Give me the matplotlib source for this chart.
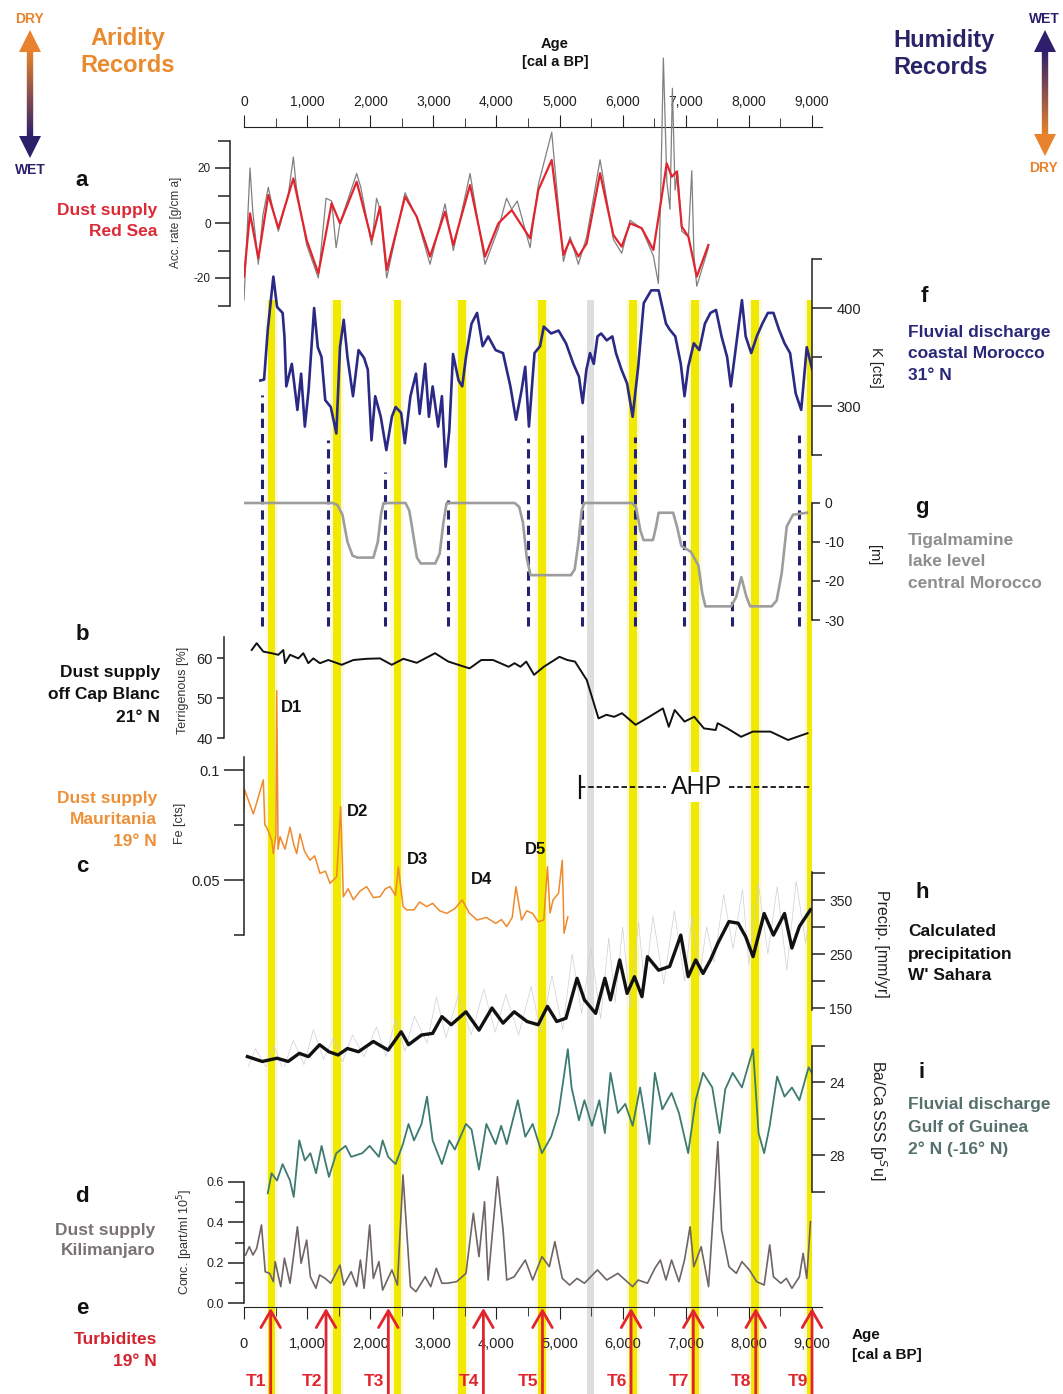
import numpy as np
import matplotlib
matplotlib.use('Agg')
import matplotlib.pyplot as plt
from matplotlib.ticker import FixedLocator, FuncFormatter, MultipleLocator
from matplotlib.patches import Polygon
from matplotlib.colors import to_rgb

plt.rcParams['font.family'] = ['Liberation Sans', 'DejaVu Sans']
plt.rcParams['axes.unicode_minus'] = False

# ---------------- data (ages in cal a BP) ----------------
# a  dust supply Red Sea, acc. rate [g/cm a]
a_age = [0, 95, 227, 385, 544, 782, 993, 1178, 1389, 1521, 1786, 2023, 2155, 2261, 2552, 2737,
         2948, 3185, 3317, 3582, 3819, 4031, 4242, 4533, 4664, 4876, 5061, 5166, 5298, 5430,
         5642, 5853, 5985, 6117, 6302, 6487, 6619, 6698, 6778, 6857, 6936, 7042, 7174, 7358]
a_smooth = [-19.5, 3.5, -12.8, 10.2, -1.9, 16.2, -6.2, -18.3, 7.2, -0.1, 15, -6.2, 5.9, -17.1,
            9.6, 2.3, -12.2, 4.1, -8, 13.8, -12.2, -0.1, 4.7, -5.6, 12, 22.9, -11.6, -6.2, -12.2,
            -7.4, 18.1, -4.4, -8.6, -0.1, -1.9, -9.8, 9.6, 21.7, 16.8, 18.7, -1.3, -5, -19.5, -8]
a_raw_age = [0, 40, 95, 140, 227, 300, 385, 440, 544, 700, 782, 830, 993, 1178, 1300, 1389, 1460,
             1521, 1786, 1850, 2023, 2100, 2155, 2261, 2552, 2737, 2948, 3185, 3317, 3582, 3819,
             4031, 4160, 4242, 4330, 4533, 4664, 4876, 5061, 5166, 5298, 5430, 5642, 5853, 5985,
             6117, 6302, 6487, 6566, 6600, 6645, 6700, 6750, 6788, 6830, 6870, 6936, 7042, 7095,
             7130, 7174, 7358]
a_raw = [-28, -8, 20, 4, -15, 3, 13, 7, -3, 10, 24, 13, -8, -20, 9, 8, -9, 0, 18, 13, -8, 9, 5,
         -20, 11, 2, -15, 7, -10, 18, -15, -2, 9, 5, 8, -9, 14, 33, -14, -5, -15, -5, 23, -6, -11,
         1, -2, -12, -22, 8, 60, 15, 5, 49, 12, 19, -3, -5, 19, -12, -23, -9]

# f  K [cts], coastal Morocco
f_age = [259, 318, 377, 465, 524, 612, 641, 670, 758, 846, 905, 964, 1023, 1081, 1111, 1169, 1228,
         1287, 1375, 1463, 1521, 1580, 1639, 1727, 1815, 1903, 1962, 2020, 2079, 2167, 2255, 2343,
         2402, 2490, 2549, 2637, 2725, 2783, 2871, 2930, 2989, 3077, 3136, 3194, 3253, 3312, 3400,
         3458, 3517, 3605, 3693, 3781, 3869, 3987, 4104, 4221, 4310, 4398, 4456, 4515, 4603, 4691,
         4750, 4867, 4984, 5102, 5219, 5307, 5366, 5425, 5483, 5542, 5601, 5659, 5747, 5836, 5894,
         5982, 6070, 6158, 6246, 6334, 6452, 6569, 6687, 6745, 6834, 6921, 6980, 7039, 7127, 7215,
         7303, 7391, 7479, 7567, 7655, 7714, 7802, 7890, 7949, 8037, 8125, 8213, 8301, 8389, 8477,
         8565, 8653, 8741, 8829, 8917, 9005]
f_val = [326, 327, 378, 432, 401, 395, 371, 320, 343, 296, 333, 279, 316, 371, 400, 360, 350, 306,
         299, 272, 360, 388, 350, 310, 357, 349, 337, 265, 310, 289, 255, 289, 299, 293, 262, 310,
         333, 292, 343, 289, 320, 279, 310, 238, 275, 353, 326, 320, 350, 384, 395, 361, 371, 357,
         354, 320, 286, 316, 340, 279, 354, 361, 381, 374, 377, 364, 343, 330, 303, 337, 354, 343,
         371, 374, 367, 371, 354, 337, 323, 289, 340, 405, 418, 418, 384, 378, 371, 343, 310, 340,
         364, 357, 384, 395, 398, 371, 350, 320, 364, 408, 371, 354, 371, 384, 395, 395, 378, 364,
         354, 313, 296, 360, 337]

# g  Tigalmamine lake level [m]
g_age = [0, 1400, 1480, 1560, 1640, 1720, 1800, 2050, 2120, 2170, 2210, 2560, 2620, 2680, 2740,
         2800, 3030, 3100, 3160, 3210, 4290, 4360, 4420, 4480, 4540, 5180, 5240, 5300, 5350, 5390,
         6150, 6210, 6280, 6330, 6480, 6530, 6570, 6800, 6860, 6930, 7080, 7130, 7200, 7260, 7310,
         7720, 7800, 7880, 7960, 8020, 8360, 8440, 8520, 8600, 8700, 8920]
g_val = [0, 0, -0.5, -3, -10, -13.5, -14, -14, -10, -3, 0, 0, -2, -8, -14, -15.5, -15.5, -13, -5,
         0, 0, -1, -5, -14, -18.5, -18.5, -17, -10, -2, 0, 0, -1, -7, -9.5, -9.5, -6, -2.5, -2.5,
         -6, -11, -12.5, -14, -16, -23, -26.5, -26.5, -24, -19, -24, -26.5, -26.5, -25, -18, -6,
         -3, -2.5]

# b  terrigenous [%] off Cap Blanc
b_age = [122, 201, 306, 438, 544, 623, 650, 729, 861, 940, 1019, 1098, 1204, 1336, 1548, 1733,
         1944, 2155, 2341, 2525, 2737, 3027, 3238, 3574, 3760, 3946, 4193, 4287, 4380, 4472, 4596,
         4750, 4998, 5122, 5245, 5431, 5617, 5741, 5866, 5989, 6205, 6421, 6638, 6731, 6824, 6980,
         7134, 7288, 7474, 7505, 7659, 7876, 8062, 8341, 8621, 8929]
b_val = [62, 63.7, 61.6, 61.2, 60.8, 62, 58.7, 60.8, 59.9, 61.2, 58.7, 59.9, 58.7, 59.5, 58.3,
         59.5, 59.8, 59.9, 58.3, 59.8, 58.8, 61.2, 59.1, 57.4, 59.5, 59.5, 57.8, 58.7, 57.8, 59.1,
         55.8, 57.8, 60.3, 59.5, 59.1, 54.5, 44.9, 45.8, 45.3, 46.2, 43.3, 45.3, 47.4, 42.8, 47,
         44.1, 45.3, 42.4, 42, 43.7, 42.4, 40.3, 41.6, 41.6, 39.5, 41.2]

# c  Fe [cts] Mauritania
c_age = [0, 10, 148, 306, 330, 359, 440, 465, 505, 518, 540, 571, 650, 729, 790, 835, 887, 960,
         1046, 1120, 1204, 1290, 1363, 1469, 1532, 1574, 1650, 1733, 1840, 1944, 2050, 2155, 2240,
         2314, 2400, 2446, 2520, 2578, 2694, 2780, 2895, 2989, 3100, 3212, 3340, 3458, 3570, 3693,
         3840, 3987, 4080, 4163, 4250, 4309, 4398, 4480, 4574, 4660, 4750, 4808, 4850, 4897, 4984,
         5043, 5071, 5131]
c_val = [0.082, 0.091, 0.080, 0.0955, 0.075, 0.074, 0.068, 0.062, 0.070, 0.136, 0.064, 0.0697,
         0.064, 0.074, 0.066, 0.062, 0.071, 0.063, 0.059, 0.061, 0.053, 0.054, 0.0485, 0.0515,
         0.0833, 0.0424, 0.046, 0.041, 0.045, 0.047, 0.042, 0.0424, 0.046, 0.047, 0.043, 0.056,
         0.038, 0.0364, 0.0364, 0.040, 0.0379, 0.0394, 0.036, 0.0348, 0.037, 0.0409, 0.035, 0.0318,
         0.033, 0.0303, 0.032, 0.0288, 0.033, 0.047, 0.0318, 0.036, 0.0348, 0.031, 0.0318, 0.056,
         0.035, 0.0409, 0.044, 0.059, 0.0258, 0.0333]

# h  calculated precipitation [mm/yr]
h_age = [54, 289, 523, 699, 876, 1021, 1198, 1345, 1491, 1639, 1814, 2049, 2284, 2490, 2607, 2813,
         2989, 3136, 3283, 3517, 3723, 3929, 4105, 4281, 4485, 4661, 4808, 4955, 5101, 5277, 5394,
         5572, 5718, 5807, 5953, 6070, 6187, 6306, 6393, 6569, 6745, 6921, 7038, 7157, 7274, 7391,
         7508, 7684, 7830, 7949, 8066, 8242, 8389, 8565, 8682, 8800, 8976]
h_val = [60, 51, 57, 51, 66, 60, 82, 69, 63, 75, 69, 88, 72, 106, 82, 100, 103, 134, 119, 143,
         109, 150, 122, 143, 125, 119, 153, 125, 131, 205, 165, 140, 205, 165, 239, 177, 208, 171,
         245, 220, 227, 285, 208, 239, 214, 239, 270, 310, 307, 282, 245, 325, 285, 325, 261, 301,
         332]
h_raw_age = [30, 180, 350, 480, 620, 780, 950, 1100, 1260, 1420, 1560, 1720, 1900, 2100, 2250,
             2400, 2550, 2700, 2900, 3050, 3200, 3400, 3600, 3800, 3980, 4150, 4350, 4550, 4700,
             4880, 5050, 5200, 5350, 5500, 5650, 5780, 5880, 6000, 6120, 6250, 6350, 6480, 6650,
             6820, 6980, 7100, 7220, 7330, 7450, 7600, 7750, 7900, 8000, 8150, 8300, 8450, 8600,
             8750, 8900, 9000]
h_raw = [30, 75, 40, 80, 35, 90, 45, 110, 55, 95, 50, 100, 60, 115, 60, 130, 70, 135, 85, 170, 95,
         175, 100, 185, 105, 175, 100, 190, 105, 210, 110, 250, 140, 260, 130, 280, 160, 300, 150,
         310, 190, 320, 195, 330, 200, 320, 210, 300, 235, 360, 260, 370, 230, 380, 250, 375, 220,
         385, 270, 360]

# i  Ba/Ca SSS [psu], Gulf of Guinea
i_age = [377, 436, 523, 612, 729, 788, 876, 964, 1052, 1141, 1229, 1346, 1463, 1610, 1698, 1874,
         1991, 2138, 2197, 2284, 2402, 2519, 2607, 2694, 2813, 2900, 2989, 3136, 3253, 3341, 3517,
         3605, 3723, 3840, 3987, 4075, 4163, 4339, 4457, 4574, 4721, 4867, 4984, 5131, 5190, 5307,
         5394, 5513, 5630, 5718, 5807, 5924, 6041, 6158, 6276, 6423, 6510, 6628, 6775, 6892, 7038,
         7157, 7274, 7420, 7537, 7625, 7743, 7890, 8066, 8153, 8242, 8330, 8447, 8565, 8682, 8800,
         8946, 9000]
i_val = [30.1, 29, 29.4, 28.5, 29.4, 30.3, 27.2, 28.3, 27.9, 29, 27.5, 29.2, 27.9, 27.5, 28.1,
         27.9, 27.5, 28.1, 27.2, 28.1, 28.5, 27.4, 26.3, 27.2, 26.3, 24.8, 27.2, 28.5, 27.2, 27.7,
         26.3, 26.6, 28.8, 26.3, 27.4, 26.4, 27.4, 25, 27, 26.3, 27.9, 27, 25.7, 22.2, 24.3, 26.1,
         25, 26.4, 25, 26.8, 23.5, 25.7, 25.2, 26.4, 24.3, 27.4, 23.5, 25.5, 24.6, 25.7, 27.9, 25,
         23.5, 24.3, 26.8, 24.4, 23.5, 24.3, 22.2, 26.8, 27.9, 26.4, 23.7, 24.8, 24.3, 25, 23.2,
         23.5]

# d  Kilimanjaro dust conc. [part/ml 10^5]
d_age = [25, 84, 142, 201, 277, 336, 406, 465, 494, 582, 641, 729, 846, 905, 993, 1052, 1140, 1198,
         1287, 1375, 1521, 1580, 1698, 1786, 1844, 1903, 1991, 2049, 2138, 2197, 2344, 2431, 2519,
         2637, 2724, 2871, 2959, 3047, 3136, 3223, 3370, 3517, 3634, 3723, 3811, 3869, 4016, 4105,
         4163, 4281, 4457, 4574, 4721, 4838, 4926, 5043, 5160, 5277, 5394, 5600, 5748, 5924, 6041,
         6158, 6245, 6393, 6510, 6598, 6686, 6775, 6892, 6980, 7068, 7127, 7244, 7361, 7508, 7567,
         7684, 7801, 7890, 8007, 8124, 8242, 8330, 8389, 8506, 8594, 8682, 8800, 8859, 8917, 8976]
d_val = [0.238, 0.279, 0.238, 0.271, 0.387, 0.155, 0.147, 0.106, 0.205, 0.081, 0.222, 0.098,
         0.378, 0.197, 0.312, 0.130, 0.073, 0.139, 0.122, 0.098, 0.188, 0.089, 0.155, 0.081, 0.213,
         0.073, 0.387, 0.122, 0.205, 0.064, 0.164, 0.089, 0.635, 0.081, 0.056, 0.130, 0.081, 0.172,
         0.098, 0.098, 0.106, 0.147, 0.445, 0.230, 0.502, 0.114, 0.626, 0.362, 0.114, 0.130, 0.213,
         0.114, 0.230, 0.180, 0.304, 0.122, 0.089, 0.122, 0.098, 0.164, 0.114, 0.147, 0.114, 0.081,
         0.114, 0.098, 0.172, 0.213, 0.114, 0.213, 0.106, 0.213, 0.378, 0.180, 0.279, 0.081, 0.80,
         0.362, 0.180, 0.147, 0.205, 0.164, 0.106, 0.089, 0.288, 0.130, 0.098, 0.122, 0.073, 0.130,
         0.246, 0.122, 0.403]

# events
dry_bands = [436, 1474, 2431, 3458, 4721, 6158, 7144, 8095, 8976]
grey_band = 5483
dash_ages = [280, 1331, 2235, 3228, 4501, 5361, 6197, 6973, 7729, 8800]
dash_tops = [311, 265, 233, 204, 267, 270, 268, 288, 304, 270]   # K value where line starts
turb_ages = [423, 1300, 2287, 3793, 4729, 6133, 7119, 8109, 9000]
turb_labels = ['T1', 'T2', 'T3', 'T4', 'T5', 'T6', 'T7', 'T8', 'T9']
ahp_start, ahp_end = 5324, 9000

# ---------------- layout ----------------
W, H = 1063, 1394
X0, X1 = 244, 812          # pixel span of 0 .. 9000 a
PT = 0.72                  # px -> pt at 100 dpi
fig = plt.figure(figsize=(W / 100, H / 100), dpi=100)

YEL = '#f2e900'
RED = '#e1252f'
ORANGE = '#ef8a2c'
NAVY = '#2a2a86'
TEAL = '#3d7a70'


def px_axes(x0, x1, ytop, ybot, z=1):
    ax = fig.add_axes([x0 / W, 1 - ybot / H, (x1 - x0) / W, (ybot - ytop) / H], zorder=z)
    ax.patch.set_visible(False)
    return ax


def panel(v0, p0, v1, p1, lim, side, bounds, major, minor, maj_len, min_len, lsize,
          offset=0, fmt=None):
    s = (p1 - p0) / (v1 - v0)
    pa, pb = p0 + (lim[0] - v0) * s, p0 + (lim[1] - v0) * s
    ax = px_axes(X0, X1, min(pa, pb), max(pa, pb))
    ax.set_xlim(0, 9000)
    ax.set_ylim(*lim)
    for k in ['top', 'bottom', 'left', 'right']:
        ax.spines[k].set_visible(k == side)
    ax.spines[side].set_bounds(*bounds)
    ax.spines[side].set_linewidth(1.1)
    ax.spines[side].set_color('#222')
    if offset:
        ax.spines[side].set_position(('outward', offset * PT))
    ax.xaxis.set_visible(False)
    ax.yaxis.set_ticks_position(side)
    ax.yaxis.set_major_locator(FixedLocator(major))
    ax.yaxis.set_minor_locator(FixedLocator(minor))
    if fmt:
        ax.yaxis.set_major_formatter(FuncFormatter(fmt))
    ax.tick_params(axis='y', which='major', length=maj_len * PT, width=1.1, labelsize=lsize,
                   color='#222', labelcolor='#222', pad=3)
    ax.tick_params(axis='y', which='minor', length=min_len * PT, width=1.1, color='#222')
    return ax


# background: dry event bands
ax_bg = px_axes(X0, X1, 0, H, z=0)
ax_bg.set_xlim(0, 9000)
ax_bg.set_ylim(H, 0)
ax_bg.axis('off')
top_frac = (H - 300) / H
for a in dry_bands:
    ax_bg.axvspan(a - 110, a + 110, ymin=0, ymax=top_frac, color='#fcfae0', lw=0)
    ax_bg.axvspan(a - 62, a + 62, ymin=0, ymax=top_frac, color=YEL, lw=0)
ax_bg.axvspan(grey_band - 55, grey_band + 55, ymin=0, ymax=top_frac, color='#dedede', lw=0)

# top age axis
ax_top = px_axes(X0, 822, 127, 135)
ax_top.set_xlim(0, 9000 * (822 - X0) / (X1 - X0))
for k in ['left', 'right', 'bottom']:
    ax_top.spines[k].set_visible(False)
ax_top.spines['top'].set_color('#222')
ax_top.yaxis.set_visible(False)
ax_top.xaxis.set_ticks_position('top')
ax_top.xaxis.set_major_locator(MultipleLocator(1000))
ax_top.xaxis.set_minor_locator(MultipleLocator(500))
ax_top.xaxis.set_major_formatter(FuncFormatter(lambda v, p: f'{int(v):,}'))
ax_top.set_xlim(0, 9000 * (822 - X0) / (X1 - X0))
ax_top.tick_params(axis='x', which='major', length=12 * PT, labelsize=10, pad=4, color='#222',
                   labelcolor='#222')
ax_top.tick_params(axis='x', which='minor', length=9 * PT, color='#222')

# bottom age axis
ax_bot = px_axes(X0, 822, 1290, 1307)
ax_bot.set_xlim(0, 9000 * (822 - X0) / (X1 - X0))
for k in ['left', 'right', 'top']:
    ax_bot.spines[k].set_visible(False)
ax_bot.spines['bottom'].set_color('#222')
ax_bot.yaxis.set_visible(False)
ax_bot.xaxis.set_major_locator(MultipleLocator(1000))
ax_bot.xaxis.set_minor_locator(MultipleLocator(500))
ax_bot.xaxis.set_major_formatter(FuncFormatter(lambda v, p: f'{int(v):,}'))
ax_bot.tick_params(axis='x', which='major', length=12 * PT, labelsize=10.5, pad=13, color='#222',
                   labelcolor='#222')
ax_bot.tick_params(axis='x', which='minor', length=9 * PT, color='#222')

# a  Red Sea
ax_a = panel(0, 223, 20, 168, (-30, 62), 'left', (-30, 30), [-20, 0, 20], [-30, -10, 10, 30],
             15, 12, 8.5, offset=14)
ax_a.plot(a_raw_age, a_raw, color='#808080', lw=0.9)
ax_a.plot(a_age, a_smooth, color=RED, lw=1.6)

# f  K counts
ax_f = panel(300, 406, 400, 308, (230, 452), 'right', (250, 450), [300, 400], [250, 350, 450],
             20, 10, 10.5)
ax_f.plot(f_age, f_val, color=NAVY, lw=1.9)
ax_f.vlines(dash_ages, 76, dash_tops, colors='#22226e', linestyles=(0, (3, 2)), lw=2.2,
            clip_on=False)

# g  lake level
ax_g = panel(0, 503, -30, 620, (-31, 1.5), 'right', (-30, 0), [0, -10, -20, -30], [], 8, 4, 10)
ax_g.plot(g_age, g_val, color='#9d9d9d', lw=1.9)

# b  terrigenous
ax_b = panel(60, 658, 40, 738, (38, 66), 'left', (40, 65.2), [40, 50, 60], [], 7, 4, 10.5,
             offset=20)
ax_b.plot(b_age, b_val, color='#111', lw=1.4)

# c  Fe
ax_c = panel(0.1, 770, 0.05, 880, (0.025, 0.14), 'left', (0.025, 0.106), [0.05, 0.1],
             [0.025, 0.075], 20, 10, 10.5, fmt=lambda v, p: f'{v:g}')
ax_c.plot(c_age, c_val, color=ORANGE, lw=1.1)

# h  precipitation
ax_h = panel(350, 900, 150, 1008, (40, 405), 'right', (146, 402), [150, 250, 350],
             [200, 300, 400], 13, 13, 10)
ax_h.plot(h_raw_age, h_raw, color='#cfcfd6', lw=0.5)
ax_h.plot(h_age, h_val, color='#111', lw=2.4)

# i  Ba/Ca SSS (inverted)
ax_i = panel(24, 1082, 28, 1155, (30.7, 21.5), 'right', (22, 30), [24, 28], [22, 26, 30],
             13, 13, 10)
ax_i.plot(i_age, i_val, color=TEAL, lw=1.3)

# d  Kilimanjaro
ax_d = panel(0, 1303, 0.6, 1182, (0, 0.82), 'left', (0, 0.6), [0, 0.2, 0.4, 0.6],
             [0.1, 0.3, 0.5], 16, 9, 9, fmt=lambda v, p: f'{v:.1f}')
ax_d.plot(d_age, d_val, color='#6f6466', lw=1.2)

# overlay: turbidite arrows, AHP bracket
ax_ov = px_axes(X0, X1, 0, H, z=5)
ax_ov.set_xlim(0, 9000)
ax_ov.set_ylim(H, 0)
ax_ov.axis('off')
for a, lab in zip(turb_ages, turb_labels):
    ax_ov.annotate('', xy=(a, 1308), xytext=(a, H + 5),
                   arrowprops=dict(arrowstyle='->,head_length=0.55,head_width=0.32', color=RED,
                                   lw=2.0, shrinkA=0, shrinkB=0, mutation_scale=22),
                   annotation_clip=False)
    ax_ov.annotate(lab, xy=(a, 1381), xytext=(-3, 0), textcoords='offset points', ha='right',
                   va='center', color=RED, fontsize=12.5, fontweight='bold',
                   annotation_clip=False)
ahp_mid = 7178
ax_ov.plot([ahp_start, ahp_start], [776, 798], color='#111', lw=1.6)
ax_ov.plot([ahp_start, 6690], [787, 787], color='#111', lw=1.3, ls=(0, (3, 1.6)))
ax_ov.plot([7680, ahp_end], [787, 787], color='#111', lw=1.3, ls=(0, (3, 1.6)))
ax_ov.text(ahp_mid, 787, 'AHP', ha='center', va='center', fontsize=18, color='#111',
           bbox=dict(fc='white', ec='none', pad=2))

# full-figure pixel canvas for arrows / labels (on top)
ax_full = fig.add_axes([0, 0, 1, 1], zorder=10)
ax_full.patch.set_visible(False)
ax_full.set_xlim(0, W)
ax_full.set_ylim(H, 0)
ax_full.axis('off')


def grad_arrow(x, ytip_top, ytip_bot, c_top, c_bot):
    hl, hw = 22, 11
    n = 60
    ys = np.linspace(ytip_top + hl - 1, ytip_bot - hl + 1, n + 1)
    ct, cb = np.array(to_rgb(c_top)), np.array(to_rgb(c_bot))
    for k in range(n):
        t = (k + 0.5) / n
        ax_full.plot([x, x], [ys[k], ys[k + 1]], color=ct * (1 - t) + cb * t, lw=4.6,
                     solid_capstyle='butt')
    ax_full.add_patch(Polygon([[x - hw, ytip_top + hl], [x + hw, ytip_top + hl], [x, ytip_top]],
                              closed=True, color=c_top, lw=0))
    ax_full.add_patch(Polygon([[x - hw, ytip_bot - hl], [x + hw, ytip_bot - hl], [x, ytip_bot]],
                              closed=True, color=c_bot, lw=0))


ARR_OR, ARR_NV = '#e8822c', '#2d1f6c'
grad_arrow(30, 30, 158, ARR_OR, ARR_NV)
grad_arrow(1045, 30, 156, ARR_NV, ARR_OR)


def ftext(x, y, s, **kw):
    ax_full.text(x, y, s, va='center', **kw)


def lines(x, ys, texts, color, ha='right', size=12.5):
    for y, t in zip(ys, texts):
        ftext(x, y, t, ha=ha, color=color, fontsize=size, fontweight='bold')


ftext(30, 19, 'DRY', ha='center', color=ARR_OR, fontsize=10, fontweight='bold')
ftext(30, 170, 'WET', ha='center', color=ARR_NV, fontsize=10, fontweight='bold')
ftext(1029, 19, 'WET', ha='left', color=ARR_NV, fontsize=10, fontweight='bold')
ftext(1029, 168, 'DRY', ha='left', color=ARR_OR, fontsize=10, fontweight='bold')

lines(128, [38, 66], ['Aridity', 'Records'], '#e98a2e', ha='center', size=17)
lines(893, [40, 68], ['Humidity', 'Records'], '#272467', ha='left', size=17)

ftext(555, 44, 'Age', ha='center', fontsize=10.5, fontweight='bold', color='#111')
ftext(555, 62, '[cal a BP]', ha='center', fontsize=10.5, fontweight='bold', color='#111')
ftext(852, 1335, 'Age', ha='left', fontsize=11, fontweight='bold', color='#111')
ftext(852, 1355, '[cal a BP]', ha='left', fontsize=11, fontweight='bold', color='#111')

for x, y, s in [(82, 180, 'a'), (82, 635, 'b'), (82, 866, 'c'), (82, 1197, 'd'),
                (82, 1308, 'e'), (924, 297, 'f'), (922, 508, 'g'), (922, 893, 'h'),
                (922, 1072, 'i')]:
    ftext(x, y, s, ha='center', fontsize=16, fontweight='bold', color='#111')

lines(157, [211, 232], ['Dust supply', 'Red Sea'], '#dc2a36')
lines(160, [673, 694, 717], ['Dust supply', 'off Cap Blanc', '21° N'], '#111')
lines(157, [799, 820, 842], ['Dust supply', 'Mauritania', '19° N'], '#ee9038')
lines(155, [1230, 1251], ['Dust supply', 'Kilimanjaro'], '#7a7272')
lines(157, [1340, 1361], ['Turbidites', '19° N'], '#d3232f')
lines(908, [333, 354, 376], ['Fluvial discharge', 'coastal Morocco', '31° N'], '#292878',
      ha='left')
lines(908, [540, 562, 584], ['Tigalmamine', 'lake level', 'central Morocco'], '#8e8e8e',
      ha='left')
lines(908, [932, 954, 976], ['Calculated', 'precipitation', "W' Sahara"], '#111', ha='left')
lines(908, [1105, 1127, 1149], ['Fluvial discharge', 'Gulf of Guinea', '2° N (-16° N)'],
      '#56706c', ha='left')

for x, y, s in [(292, 708, 'D1'), (357, 812, 'D2'), (418, 860, 'D3'), (482, 880, 'D4'),
                (536, 849, 'D5')]:
    ftext(x, y, s, ha='center', fontsize=12, fontweight='bold', color='#111')

# axis titles
ftext(176, 222, 'Acc. rate [g/cm a]', ha='center', rotation=90, fontsize=8.5, color='#333')
ftext(183, 690, 'Terrigenous [%]', ha='center', rotation=90, fontsize=9, color='#333')
ftext(180, 823, 'Fe [cts]', ha='center', rotation=90, fontsize=9, color='#333')
ftext(185, 1242, 'Conc. [part/ml 10$^5$]', ha='center', rotation=90, fontsize=9, color='#333')
ftext(876, 367, 'K [cts]', ha='center', rotation=-90, fontsize=10.5, color='#222')
ftext(874, 555, '[m]', ha='center', rotation=-90, fontsize=10.5, color='#222')
ftext(882, 944, 'Precip. [mm/yr]', ha='center', rotation=-90, fontsize=11.5, color='#222')
ftext(878, 1120, 'Ba/Ca SSS [p$^S$u]', ha='center', rotation=-90, fontsize=11.5, color='#222')

fig.savefig('out.png', dpi=100)
